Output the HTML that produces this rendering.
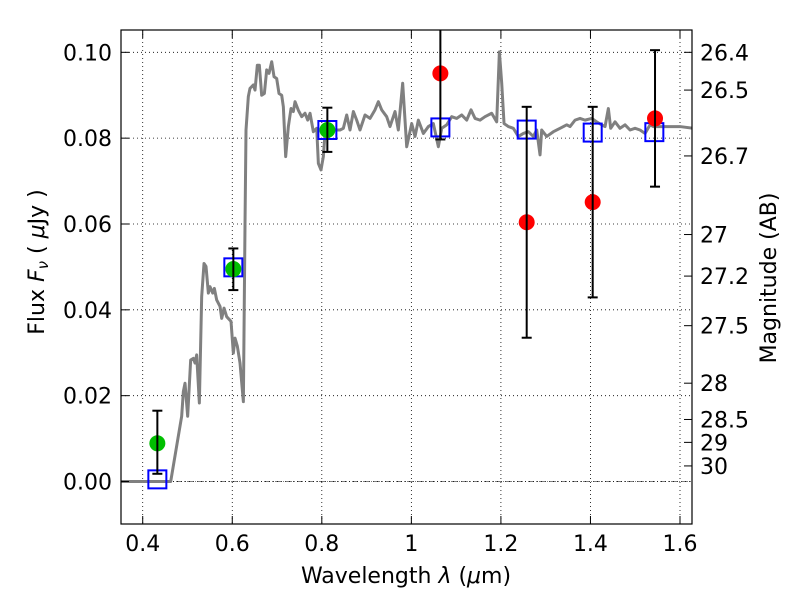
<!DOCTYPE html>
<html><head><meta charset="utf-8"><style>
html,body{margin:0;padding:0;background:#fff;width:800px;height:600px;overflow:hidden;}
svg{display:block;}
svg text{font-family:"DejaVu Sans","Liberation Sans",sans-serif;font-size:22px;fill:#000;}
</style></head><body>
<svg id="chart" width="800" height="600" xmlns="http://www.w3.org/2000/svg">
<rect x="0" y="0" width="800" height="600" fill="#fff"/>
<g id="grid"></g>
<g id="plot"></g>
<g id="axes"></g>
<text x="406" y="583" text-anchor="middle">Wavelength  <tspan font-style="italic">λ</tspan> (<tspan font-style="italic">μ</tspan>m)</text>
<text transform="translate(44,262) rotate(-90)" text-anchor="middle">Flux  <tspan font-style="italic">F</tspan><tspan font-style="italic" font-size="15" dy="4">ν</tspan><tspan dy="-4">  ( </tspan><tspan font-style="italic">μ</tspan>Jy )</text>
<text transform="translate(776,278) rotate(-90)" text-anchor="middle">Magnitude (AB)</text>
</svg>
<script>
const specLam=[0.3493,0.4625,0.487,0.4908,0.4945,0.5004,0.5071,0.5131,0.5168,0.5205,0.5265,0.5317,0.5369,0.5414,0.5466,0.5503,0.5563,0.56,0.5652,0.5727,0.5764,0.5816,0.5875,0.5972,0.6024,0.6062,0.6114,0.6173,0.6248,0.6285,0.6307,0.6359,0.6396,0.6471,0.6508,0.656,0.6605,0.6657,0.6717,0.6769,0.6821,0.6881,0.6933,0.6992,0.7044,0.7104,0.7141,0.7193,0.7253,0.7312,0.7364,0.7402,0.7476,0.7551,0.7625,0.7685,0.7737,0.7811,0.7886,0.7923,0.7982,0.8034,0.8072,0.8109,0.8258,0.8407,0.8481,0.8556,0.863,0.8705,0.8779,0.8853,0.8965,0.9077,0.9188,0.9263,0.9337,0.9449,0.9523,0.9635,0.9709,0.9806,0.9896,1.0008,1.0082,1.0156,1.0268,1.038,1.0491,1.0603,1.0678,1.0789,1.0901,1.1013,1.1124,1.1236,1.1333,1.1422,1.1534,1.1645,1.1794,1.1906,1.1966,1.2018,1.207,1.2167,1.2278,1.239,1.2502,1.2613,1.2725,1.28,1.2874,1.2911,1.3023,1.3172,1.3321,1.347,1.3544,1.3656,1.3767,1.3879,1.4028,1.414,1.4251,1.4326,1.44,1.4452,1.4549,1.466,1.4772,1.4884,1.4996,1.5107,1.5219,1.5331,1.5405,1.5554,1.6,1.6298];
const specFlux=[0,0,0.0152,0.021,0.0229,0.0152,0.0283,0.0287,0.0276,0.0295,0.0183,0.0431,0.0508,0.0501,0.0439,0.0454,0.0439,0.045,0.0423,0.0408,0.038,0.0404,0.0384,0.0373,0.0299,0.0334,0.0315,0.0276,0.0186,0.0602,0.0819,0.0897,0.0916,0.0924,0.0912,0.097,0.097,0.09,0.0904,0.0959,0.0951,0.0978,0.0943,0.0939,0.0904,0.09,0.0873,0.0757,0.0827,0.0869,0.0862,0.0885,0.0865,0.085,0.0858,0.0842,0.0858,0.0815,0.0823,0.0741,0.0726,0.0757,0.0811,0.0819,0.0819,0.0819,0.0823,0.0854,0.0819,0.0862,0.0842,0.0819,0.0854,0.0846,0.0866,0.0885,0.0866,0.085,0.0827,0.0862,0.0819,0.0928,0.078,0.0834,0.0804,0.0842,0.0811,0.0827,0.0834,0.078,0.0823,0.0831,0.085,0.0846,0.0854,0.0842,0.0866,0.0846,0.0842,0.085,0.0858,0.0838,0.1001,0.0928,0.0834,0.0827,0.0823,0.0804,0.0811,0.0815,0.0804,0.0819,0.0761,0.0819,0.0804,0.0815,0.0823,0.0831,0.0827,0.0842,0.0846,0.0842,0.0846,0.0838,0.0831,0.0827,0.0869,0.0823,0.0838,0.0823,0.0831,0.0819,0.0823,0.0819,0.0811,0.0831,0.0827,0.0827,0.0827,0.0823];
const greenLam=[0.4327,0.6024,0.8124];
const greenFlux=[0.0089,0.0495,0.0819];
const greenErrLo=[0.0071,0.0049,0.0051];
const greenErrHi=[0.0076,0.0048,0.0052];
const redLam=[1.0648,1.2576,1.405,1.5442];
const redFlux=[0.0951,0.0604,0.0651,0.0846];
const redErr=[0.0154,0.0269,0.0222,0.0159];
const sqLam=[0.4327,0.6024,0.8124,1.0648,1.2576,1.405,1.5427];
const sqFlux=[0.0005,0.0499,0.0819,0.0825,0.082,0.0813,0.0814];
const xTicks=[0.4,0.6,0.8,1.0,1.2,1.4,1.6];
const xTickLabels=["0.4","0.6","0.8","1","1.2","1.4","1.6"];
const yTicks=[0,0.02,0.04,0.06,0.08,0.1];
const yTickLabels=["0.00","0.02","0.04","0.06","0.08","0.10"];
const magTicks=[26.4,26.5,26.7,27,27.2,27.5,28,28.5,29,30];
const magLabels=["26.4","26.5","26.7","27","27.2","27.5","28","28.5","29","30"];

const L=121,R=692,T=30,B=524;
const xMin=0.3515,xMax=1.6268,yMin=-0.0099,yMax=0.1052;
const xs=v=>L+(v-xMin)/(xMax-xMin)*(R-L);
const ys=v=>B-(v-yMin)/(yMax-yMin)*(B-T);
const NS="http://www.w3.org/2000/svg";
function mk(tag,attrs,parent){const e=document.createElementNS(NS,tag);for(const k in attrs)e.setAttribute(k,attrs[k]);parent.appendChild(e);return e;}
const grid=document.getElementById('grid'),plot=document.getElementById('plot'),axes=document.getElementById('axes');

xTicks.forEach((t,i)=>{const x=xs(t);
 const g=mk('line',{x1:x,x2:x,y1:T,y2:B,stroke:'#000','stroke-width':0.8,'stroke-dasharray':'1,3'},grid);
 
 
 mk('line',{x1:x,x2:x,y1:B,y2:B-8,stroke:'#000'},axes);
 mk('line',{x1:x,x2:x,y1:T,y2:T+8,stroke:'#000'},axes);
 const tx=mk('text',{x:x,y:B+27,'text-anchor':'middle'},axes);tx.textContent=xTickLabels[i];
 
 
});
yTicks.forEach((t,i)=>{const y=ys(t);
 const g=mk('line',{x1:L,x2:R,y1:y,y2:y,stroke:'#000','stroke-width':0.8,'stroke-dasharray':'1,3'},grid);
 
 
 mk('line',{x1:L,x2:L+8,y1:y,y2:y,stroke:'#000'},axes);
 const tx=mk('text',{x:L-9,y:y+8,'text-anchor':'end'},axes);tx.textContent=yTickLabels[i];
 
 
});
magTicks.forEach((m,i)=>{const y=ys(Math.pow(10,(23.9-m)/2.5));
 mk('line',{x1:R,x2:R-8,y1:y,y2:y,stroke:'#000'},axes);
 const tx=mk('text',{x:R+8,y:y+8,'text-anchor':'start'},axes);tx.textContent=magLabels[i];
 
 
});
const z=mk('line',{x1:L,x2:R,y1:ys(0),y2:ys(0),stroke:'#000','stroke-width':0.6,'stroke-dasharray':'6,2,1,2'},plot);


const sp=mk('polyline',{points:specLam.map((l,i)=>xs(l)+','+ys(specFlux[i])).join(' '),fill:'none',stroke:'#808080','stroke-width':3,'stroke-linejoin':'round'},plot);


function errbar(x,lo,hi){const g=mk('g',{},plot);
 mk('line',{x1:x,x2:x,y1:ys(lo),y2:ys(hi),stroke:'#000','stroke-width':2},g);
 mk('line',{x1:x-5,x2:x+5,y1:ys(lo),y2:ys(lo),stroke:'#000','stroke-width':2},g);
 mk('line',{x1:x-5,x2:x+5,y1:ys(hi),y2:ys(hi),stroke:'#000','stroke-width':2},g);
 return g;}
sqLam.forEach((l,i)=>{
 const s=mk('rect',{x:xs(l)-9,y:ys(sqFlux[i])-9,width:18,height:18,fill:'none',stroke:'#0000ff','stroke-width':2},plot);
 
 
});
greenLam.forEach((l,i)=>{
 const c=mk('circle',{cx:xs(l),cy:ys(greenFlux[i]),r:8,fill:'#00bf00'},plot);
 
 
 const e=errbar(xs(l),greenFlux[i]-greenErrLo[i],greenFlux[i]+greenErrHi[i]);
 
 
});
redLam.forEach((l,i)=>{
 const c=mk('circle',{cx:xs(l),cy:ys(redFlux[i]),r:8,fill:'#ff0000'},plot);
 
 
 const e=errbar(xs(l),redFlux[i]-redErr[i],redFlux[i]+redErr[i]);
 
 
});
const clip=mk('clipPath',{id:'cp'},document.getElementById('chart'));
mk('rect',{x:L,y:T,width:R-L,height:B-T},clip);
plot.setAttribute('clip-path','url(#cp)');
const fr=mk('rect',{x:L,y:T,width:R-L,height:B-T,fill:'none',stroke:'#000','stroke-width':1.2},axes);


</script>
</body></html>
